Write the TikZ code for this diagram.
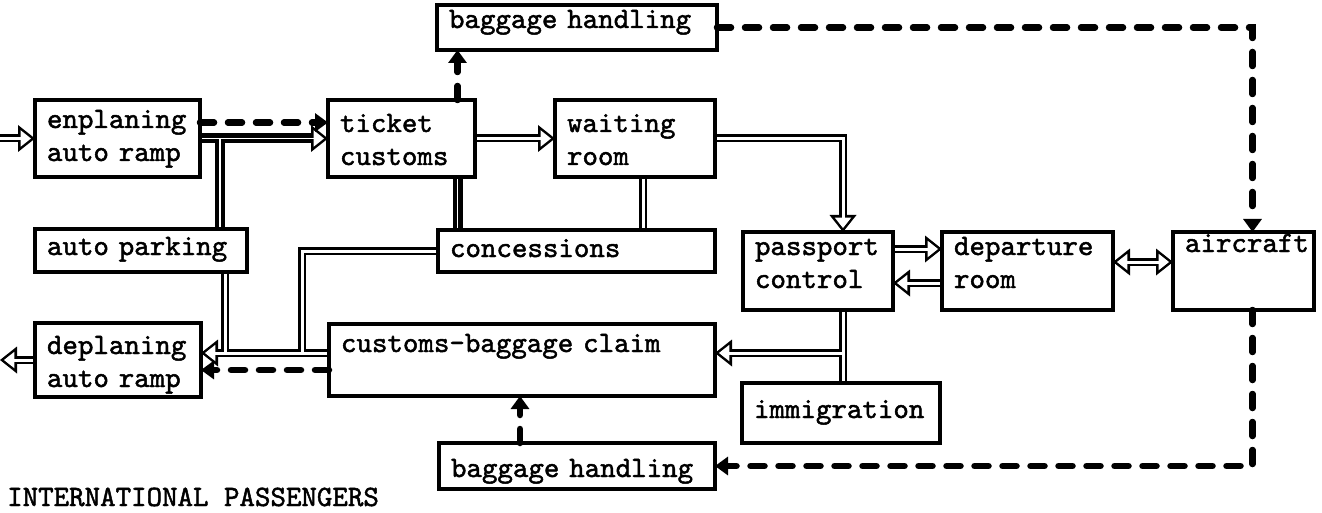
\documentclass[tikz,border=0pt]{standalone}
\usepackage{tikz}
\usetikzlibrary{arrows.meta, positioning, backgrounds}

\font\typewriter="[lmmono10-regular]:embolden=1.6" at 29.5pt
\newcommand{\boxfont}{\fontsize{29.5}{33}\selectfont\typewriter\hyphenpenalty=10000\relax}

\tikzset{
    outertip/.tip={Triangle[length=17pt, width=27pt, line width=0pt]},
    innertip/.tip={Triangle[length=10.4pt, width=16.5pt, sep=4pt, line width=0pt]},
    gap/.store in=\flowgap, gap=3pt
}

\begin{document}
\begin{tikzpicture}[
        x=1pt, y=-1pt,
        box/.style={draw, line width=3.4pt, anchor=north west, outer sep=0pt, inner xsep=12pt, inner ysep=0pt, align=left, text height=27pt, font=\boxfont},
        flow/.style={draw, line width=8pt, >=outertip, #1, postaction={draw=white, line width=\flowgap, >=innertip, #1}},
        flow/.default=-,
        heavyflow/.style={flow=#1, line width=10pt, gap=1.2pt},
        heavyflow/.default=-,
        bagflow/.style={draw, line width=6.5pt, dash pattern=on 14pt off 14pt, line cap=round, >={Triangle[length=13pt, width=18pt]}}
    ]
        \useasboundingbox (0,0) rectangle (1322,513);

        % departures, top row
        \node[box, text width=141pt, text depth=49pt, text height=28pt] (enpl) at (35,100) {enplaning\\auto ramp};
        \node[box, right=128pt of enpl.north east, anchor=north west, text width=123pt, text height=32pt, text depth=45pt] (ticket) {ticket\\customs};
        \node[box, right=80pt of ticket.north east, anchor=north west, text width=136pt, text height=32pt, text depth=45pt] (waiting) {waiting\\room};
        \node[box, text width=256pt, text height=23pt, text depth=22pt] (bagtop) at (437,5) {baggage handling};
        \node[box, below=52pt of enpl.south west, anchor=north west, text width=188pt, text height=26pt, text depth=17pt] (parking) {auto parking};
        \node[box, text width=253pt, text depth=15pt] (conc) at (438,230) {concessions};

        % arrivals, lower row
        \node[box, below=51pt of parking.south west, anchor=north west, text width=142pt, text height=31pt, text depth=43pt] (deplan) {deplaning\\auto ramp};
        \node[box, text width=362pt, text height=28pt, text depth=44pt] (claim) at (329,324) {customs-baggage claim};
        \node[box, text width=252pt, text height=34pt, text depth=12pt] (bagbot) at (439,443) {baggage handling};

        % gate side
        \node[box, text width=126pt, text height=23pt, text depth=55pt] (passport) at (743,232) {passport\\control};
        \node[box, right=49pt of passport.north east, anchor=north west, text width=147pt, text height=23pt, text depth=55pt] (depart) {departure\\room};
        \node[box, right=60pt of depart.north east, anchor=north west, text width=117pt, text height=20pt, text depth=58pt] (aircraft) {aircraft};
        \node[box, text width=174pt, text height=35pt, text depth=25pt] (immig) at (742,383) {immigration};

        \node[anchor=base west, inner sep=0pt, font=\boxfont] (title) at (7,506) {INTERNATIONAL PASSENGERS};

        \coordinate[left=35pt of enpl] (arrive);
        \coordinate[left=35pt of deplan] (leave);
        \coordinate (lowleft) at ([yshift=7pt]claim.west);
        \coordinate (lowright) at ([yshift=7pt]claim.east);

        \begin{scope}[on background layer]
        % passengers
        \draw[flow=->] (arrive) -- (enpl.west);
        \draw[heavyflow=->] ([xshift=20pt]enpl.east |- parking.north) -- ([xshift=20pt]enpl.east) (enpl.east) -- (ticket.west);
        \draw[flow=->] (ticket.east) -- (ticket.east -| waiting.west);
        \draw[heavyflow] ([xshift=56pt]ticket.south) -- ([xshift=56pt]ticket.south |- conc.north);
        \draw[flow] ([xshift=8pt]waiting.south) -- ([xshift=8pt]waiting.south |- conc.north);
        \draw[flow=->] (waiting.east) -| ([xshift=25pt]passport.north);
        \draw[flow=->] ([yshift=22pt]passport.east) -- ([yshift=22pt]passport.east -| depart.west);
        \draw[flow=->] ([yshift=-12pt]depart.west) -- ([yshift=-12pt]depart.west -| passport.east);
        \draw[flow=<->] ([yshift=9pt]depart.east) -- ([yshift=9pt]depart.east -| aircraft.west);
        \draw[flow=->] ([xshift=25pt]passport.south) -- ([xshift=25pt]passport.south |- immig.north)
            ([xshift=25pt]passport.south |- lowright) -- (lowright);
        \draw[flow=->] ([xshift=-22pt]parking.south east) -- ([xshift=-22pt]parking.south east |- lowleft)
            (conc.west) -| ([xshift=-27pt]lowleft) (lowleft) -- (lowleft -| deplan.east);
        \draw[flow=->] (deplan.west) -- (leave);

        % baggage
        \draw[bagflow, ->] ([yshift=16pt]enpl.east) -- ([yshift=16pt]ticket.west);
        \draw[bagflow, ->] ([xshift=56pt]ticket.north) -- ([xshift=56pt]ticket.north |- bagtop.south);
        \draw[bagflow, ->] (bagtop.east) -| ([xshift=9pt]aircraft.north);
        \draw[bagflow, ->] ([xshift=9pt]aircraft.south) |- (bagbot.east);
        \draw[bagflow, ->] ([xshift=-57pt]bagbot.north) -- ([xshift=-57pt]bagbot.north |- claim.south);
        \draw[bagflow, ->] ([yshift=-10pt]claim.west) -- ([yshift=-10pt]claim.west -| deplan.east);
        \end{scope}
    \end{tikzpicture}
\end{document}
